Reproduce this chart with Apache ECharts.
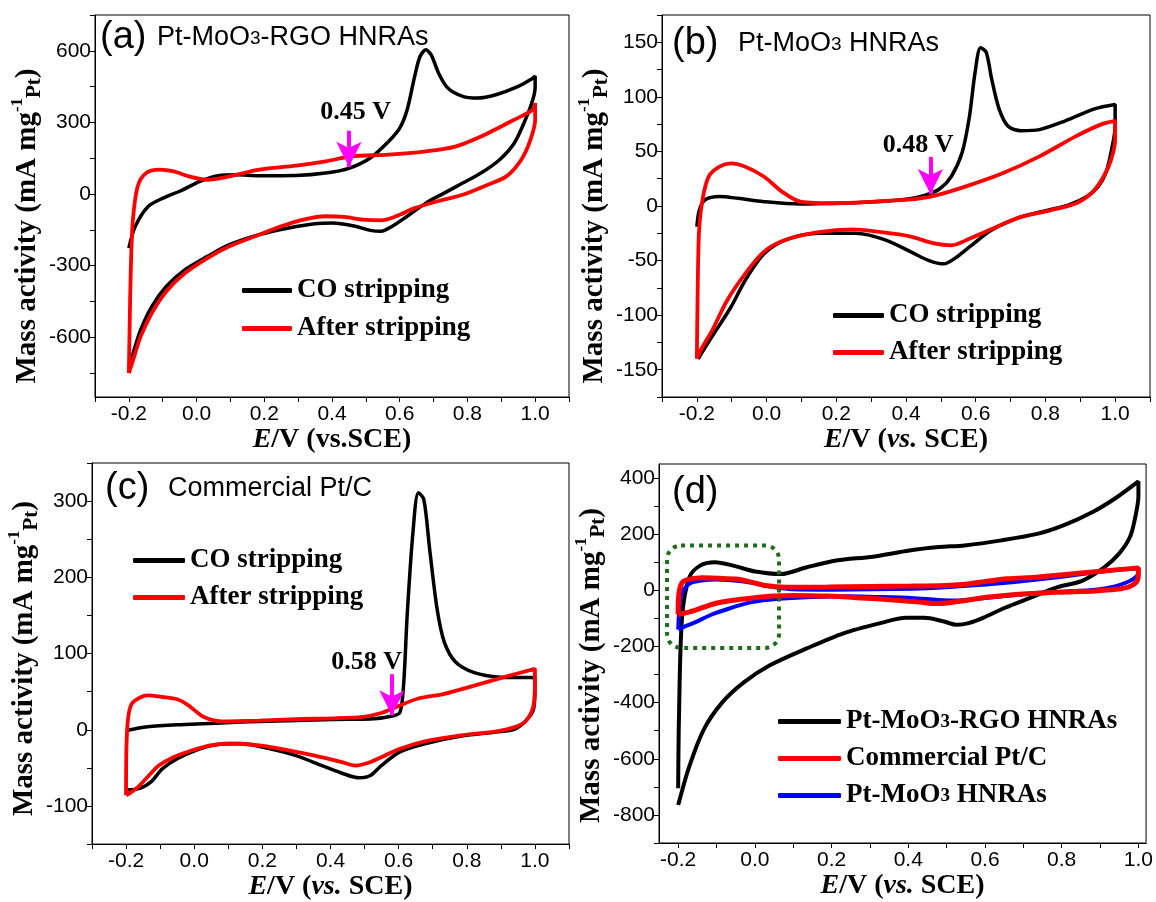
<!DOCTYPE html>
<html>
<head>
<meta charset="utf-8">
<script src="https://cdn.jsdelivr.net/npm/echarts@6/dist/echarts.min.js"></script>
<style>
  html, body { margin: 0; padding: 0; background: #fff; }
  #main { width: 1156px; height: 902px; }
</style>
</head>
<body>
<div id="main"></div>
<script>
// ---- data: [E (V vs SCE), mass activity (mA mg-1 Pt)] ----
var aCO = [[-0.2,-226],[-0.181,-135],[-0.143,-52],[-0.099,-17],[-0.045,15],[0.010,53],[0.064,77],[0.119,81],[0.185,77],[0.294,78],[0.381,88],[0.452,109],[0.513,151],[0.567,220],[0.6,276],[0.622,353],[0.644,492],[0.660,576],[0.677,604],[0.693,583],[0.715,506],[0.742,444],[0.786,409],[0.829,402],[0.884,416],[0.950,451],[0.993,485],[1.0,495],[1.0,450],[0.993,395],[0.971,311],[0.938,213],[0.895,144],[0.840,88],[0.786,46],[0.731,4],[0.677,-38],[0.622,-93],[0.578,-135],[0.545,-156],[0.513,-152],[0.469,-135],[0.403,-121],[0.349,-124],[0.272,-142],[0.185,-170],[0.097,-212],[0.032,-261],[-0.034,-317],[-0.089,-386],[-0.132,-470],[-0.165,-568],[-0.187,-665],[-0.2,-728]];
var aAfter = [[-0.2,-750],[-0.198,-582],[-0.194,-303],[-0.188,-107],[-0.174,32],[-0.149,88],[-0.110,102],[-0.067,95],[-0.023,74],[0.032,60],[0.097,74],[0.185,102],[0.294,119],[0.381,137],[0.458,158],[0.567,165],[0.677,179],[0.764,199],[0.840,241],[0.928,304],[0.993,353],[1.0,381],[1.0,311],[0.986,227],[0.959,144],[0.915,74],[0.860,39],[0.786,-3],[0.709,-31],[0.644,-59],[0.589,-93],[0.545,-110],[0.491,-107],[0.436,-96],[0.381,-93],[0.316,-107],[0.250,-135],[0.185,-170],[0.097,-219],[0.032,-268],[-0.034,-331],[-0.089,-407],[-0.132,-498],[-0.165,-596],[-0.187,-693],[-0.2,-750]];

var bCO = [[-0.2,-19],[-0.193,-4],[-0.177,5.5],[-0.135,8.6],[-0.082,7],[-0.008,4],[0.097,1.8],[0.203,2.5],[0.308,4],[0.393,6],[0.456,10],[0.498,16],[0.530,27],[0.561,49],[0.582,82],[0.598,122],[0.614,145],[0.630,141],[0.646,116],[0.667,89],[0.693,73],[0.730,69],[0.783,70],[0.857,78],[0.941,89],[1.0,93],[1.0,73],[0.988,49],[0.973,30],[0.952,18],[0.920,9],[0.867,1],[0.804,-4],[0.730,-10],[0.646,-22],[0.582,-37.5],[0.540,-48],[0.509,-53],[0.466,-50],[0.414,-42],[0.340,-31],[0.256,-25],[0.150,-25],[0.055,-31],[-0.008,-44],[-0.061,-68],[-0.103,-93],[-0.145,-114],[-0.177,-130],[-0.196,-140]];
var bAfter = [[-0.2,-140],[-0.198,-87],[-0.194,-25],[-0.184,5.5],[-0.166,27],[-0.135,36],[-0.103,39],[-0.061,36],[-0.008,27],[0.045,13],[0.097,4],[0.203,2.5],[0.308,4],[0.414,6],[0.477,9],[0.572,18],[0.677,30],[0.783,45.5],[0.888,64],[0.962,75],[1.0,78],[1.0,61],[0.988,42],[0.967,27],[0.936,13],[0.888,2.5],[0.814,-4],[0.730,-10],[0.646,-21],[0.582,-30],[0.530,-36],[0.477,-34],[0.414,-28],[0.329,-24],[0.245,-21.5],[0.150,-24],[0.055,-31],[-0.008,-42],[-0.061,-62],[-0.114,-87],[-0.156,-114],[-0.187,-131],[-0.2,-140]];

var cCO = [[-0.2,-1],[-0.137,4],[-0.028,7],[0.081,9],[0.190,11],[0.299,12],[0.408,13.5],[0.517,14],[0.582,18],[0.604,23],[0.615,62],[0.625,150],[0.642,259],[0.658,311],[0.674,302],[0.691,237],[0.713,158],[0.734,115],[0.767,89],[0.822,75],[0.898,69],[1.0,68],[1.0,54],[0.996,27],[0.974,12],[0.941,1],[0.887,-3],[0.789,-8],[0.680,-18],[0.604,-29],[0.549,-47],[0.517,-60],[0.484,-63],[0.440,-58],[0.375,-47],[0.299,-34],[0.223,-25],[0.135,-18],[0.059,-20],[0.005,-27],[-0.050,-38],[-0.093,-51],[-0.126,-68],[-0.159,-77],[-0.197,-79]];
var cAfter = [[-0.2,-86],[-0.199,-25],[-0.193,19],[-0.180,36],[-0.137,45],[-0.093,43],[-0.050,40],[-0.017,32],[0.027,17],[0.081,11],[0.190,12],[0.299,14],[0.408,15],[0.495,17],[0.549,22],[0.593,30],[0.658,41],[0.734,47],[0.822,58],[0.909,69],[1.0,80],[1.0,62],[0.996,32],[0.974,12],[0.941,3.5],[0.887,-2],[0.789,-7],[0.680,-15],[0.604,-25],[0.549,-36],[0.506,-44],[0.473,-47],[0.430,-42],[0.354,-34],[0.277,-27],[0.190,-20.5],[0.103,-18],[0.048,-20.5],[-0.006,-27],[-0.061,-36],[-0.104,-47],[-0.137,-62],[-0.170,-77],[-0.2,-86]];

// panel d: RGO sample; the other two are the "after stripping" curves of (c) and (b)
var dRGO = [[-0.2,-705],[-0.198,-459],[-0.190,-98],[-0.171,46],[-0.143,88],[-0.104,100],[-0.056,88],[0.001,67],[0.068,58],[0.135,82],[0.212,106],[0.308,120],[0.403,142],[0.480,154],[0.547,160],[0.643,178],[0.739,202],[0.806,232],[0.882,280],[0.940,328],[1.0,388],[1.0,334],[0.992,262],[0.978,190],[0.949,130],[0.911,82],[0.853,34],[0.786,10],[0.719,-26],[0.652,-62],[0.595,-98],[0.557,-117],[0.528,-123],[0.490,-110],[0.442,-98],[0.394,-98],[0.327,-117],[0.231,-153],[0.135,-207],[0.039,-267],[-0.028,-327],[-0.085,-399],[-0.133,-495],[-0.171,-627],[-0.2,-765]];
var dPtC = cAfter;
var dMoO3 = bAfter;

// ---- axes ----
var xRange = [[-0.3, 1.1], [-0.3, 1.1], [-0.3, 1.1], [-0.25, 1.02]];
var xTicksWide = [-0.3, -0.2, -0.1, 0, 0.1, 0.2, 0.3, 0.4, 0.5, 0.6, 0.7, 0.8, 0.9, 1.0, 1.1];
var xTicksD = [-0.2, -0.1, 0, 0.1, 0.2, 0.3, 0.4, 0.5, 0.6, 0.7, 0.8, 0.9, 1.0];
var xLabels = [-0.2, 0, 0.2, 0.4, 0.6, 0.8, 1.0];

var yRange = [[-850, 750], [-175, 175], [-150, 350], [-900, 450]];
var yTicks = [
  [-750, -600, -450, -300, -150, 0, 150, 300, 450, 600, 750],
  [-175, -150, -125, -100, -75, -50, -25, 0, 25, 50, 75, 100, 125, 150, 175],
  [-150, -100, -50, 0, 50, 100, 150, 200, 250, 300, 350],
  [-900, -800, -700, -600, -500, -400, -300, -200, -100, 0, 100, 200, 300, 400]
];
var yLabels = [
  [-600, -300, 0, 300, 600],
  [-150, -100, -50, 0, 50, 100, 150],
  [-100, 0, 100, 200, 300],
  [-800, -600, -400, -200, 0, 200, 400]
];

// ---- annotations ----
var arrowX = [0.45, 0.47, 0.58];
var arrowTop = [265, 45, 73];
var arrowTip = [114, 11, 19];
var arrowText = ['0.45 V', '0.48 V', '0.58 V'];
var arrowLabelPos = [[0.47, 344], [0.435, 56], [0.506, 88]];
var zoomBox = [[-0.229, 160], [0.063, -205]];

var SERIF = 'Liberation Serif, Times New Roman, serif';
var SANS = 'Liberation Sans, Arial, sans-serif';

var grids = [
  { left: 95, top: 15, width: 474, height: 382 },
  { left: 662, top: 15, width: 488, height: 382 },
  { left: 92, top: 463, width: 477, height: 384 },
  { left: 659, top: 464, width: 489, height: 379 }
];
grids.forEach(function (g) {
  g.show = true; g.borderColor = '#000'; g.borderWidth = 1; g.backgroundColor = 'transparent';
});

var xNames = ['{i|E}/V (vs.SCE)', '{i|E}/V ({i|vs.} SCE)', '{i|E}/V ({i|vs.} SCE)', '{i|E}/V ({i|vs.} SCE)'];
var yGaps = [46, 40, 46, 44];
// extra right padding slides the rotated title down along the axis
var yShift = [40, 40, 10, 24];

var xAxes = [], yAxes = [];
for (var i = 0; i < 4; i++) {
  xAxes.push({
    type: 'value', gridIndex: i, min: xRange[i][0], max: xRange[i][1],
    axisLine: { onZero: false, lineStyle: { color: '#000', width: 1 } },
    axisTick: { show: true, inside: false, length: 5, customValues: i === 3 ? xTicksD : xTicksWide, lineStyle: { color: '#000', width: 1 } },
    axisLabel: {
      customValues: xLabels, color: '#000', fontFamily: SANS, fontSize: 21, margin: 7,
      formatter: function (v) { return (Math.round(v * 10) / 10).toFixed(1); }
    },
    splitLine: { show: false },
    name: xNames[i], nameLocation: 'middle', nameGap: 24,
    nameTextStyle: {
      fontFamily: SERIF, fontWeight: 'bold', fontSize: 28, color: '#000',
      rich: { i: { fontFamily: SERIF, fontWeight: 'bold', fontStyle: 'italic', fontSize: 28, color: '#000' } }
    }
  });
  yAxes.push({
    type: 'value', gridIndex: i, min: yRange[i][0], max: yRange[i][1],
    axisLine: { onZero: false, lineStyle: { color: '#000', width: 1 } },
    axisTick: { show: true, inside: false, length: 5, customValues: yTicks[i], lineStyle: { color: '#000', width: 1 } },
    axisLabel: { customValues: yLabels[i], color: '#000', fontFamily: SANS, fontSize: 21, margin: 4 },
    splitLine: { show: false },
    name: 'Mass activity (mA mg{sup|-1}{sub|Pt})', nameLocation: 'middle', nameGap: yGaps[i], nameRotate: 90,
    nameTextStyle: {
      fontFamily: SERIF, fontWeight: 'bold', fontSize: 29, color: '#000', lineHeight: 36,
      padding: [0, yShift[i], 0, 0],
      rich: {
        sup: { fontFamily: SERIF, fontWeight: 'bold', fontSize: 17, color: '#000', verticalAlign: 'top', lineHeight: 36 },
        sub: { fontFamily: SERIF, fontWeight: 'bold', fontSize: 21, color: '#000', verticalAlign: 'bottom', lineHeight: 36 }
      }
    }
  });
}

function cv(name, data, color, width, idx) {
  return {
    type: 'line', name: name, data: data, xAxisIndex: idx, yAxisIndex: idx,
    symbol: 'none', smooth: 0.3, lineStyle: { color: color, width: width },
    itemStyle: { color: color }, emphasis: { disabled: true }
  };
}

function arrowSeries(k) {
  return {
    type: 'scatter', xAxisIndex: k, yAxisIndex: k, data: [arrowLabelPos[k]],
    symbolSize: 1, itemStyle: { color: 'rgba(0,0,0,0)', opacity: 1 }, silent: true,
    label: {
      show: true, position: 'inside', formatter: arrowText[k],
      fontFamily: SERIF, fontWeight: 'bold', fontSize: 26, color: '#000'
    },
    markLine: {
      silent: true, symbol: ['none', 'arrow'], symbolSize: [19, 25],
      lineStyle: { color: '#ff00ff', width: 4, type: 'solid', opacity: 1 },
      label: { show: false },
      data: [[{ coord: [arrowX[k], arrowTop[k]] }, { coord: [arrowX[k], arrowTip[k]] }]]
    }
  };
}

var legendText = {
  fontFamily: SERIF, fontWeight: 'bold', fontSize: 27, color: '#000', lineHeight: 27,
  rich: { s: { fontFamily: SERIF, fontWeight: 'bold', fontSize: 19, color: '#000', verticalAlign: 'bottom', lineHeight: 27, padding: [0, 0, 3, 0] } }
};
function legendFor(names, left, top, w, gap) {
  return {
    data: names, orient: 'vertical', left: left, top: top, padding: 0,
    icon: 'roundRect', itemWidth: w, itemHeight: 5, itemGap: gap, selectedMode: false,
    textStyle: legendText,
    formatter: function (n) { return n.replace('MoO3', 'MoO{s|3}'); }
  };
}

var option = {
  animation: false,
  backgroundColor: '#fff',
  grid: grids,
  xAxis: xAxes,
  yAxis: yAxes,
  legend: [
    legendFor(['CO stripping', 'After stripping'], 242, 277, 50, 11),
    legendFor(['CO stripping', 'After stripping'], 833, 302, 51, 10),
    legendFor(['CO stripping', 'After stripping'], 133, 547, 52, 10),
    legendFor(['Pt-MoO3-RGO HNRAs', 'Commercial Pt/C', 'Pt-MoO3 HNRAs'], 778, 708, 63, 10)
  ],
  series: [
    cv('CO stripping', aCO, '#000', 3.5, 0),
    cv('After stripping', aAfter, '#ff0000', 3.8, 0),
    cv('CO stripping', bCO, '#000', 3.5, 1),
    cv('After stripping', bAfter, '#ff0000', 3.8, 1),
    cv('CO stripping', cCO, '#000', 3.5, 2),
    cv('After stripping', cAfter, '#ff0000', 3.8, 2),
    cv('Pt-MoO3-RGO HNRAs', dRGO, '#000', 4, 3),
    cv('Pt-MoO3 HNRAs', dMoO3, '#0000ff', 4, 3),
    cv('Commercial Pt/C', dPtC, '#ff0000', 5, 3),
    arrowSeries(0), arrowSeries(1), arrowSeries(2)
  ]
};

var chart = echarts.init(document.getElementById('main'));
chart.setOption(option);

function panelLabel(tag, text, tagX, textX, cy) {
  return [
    { type: 'text', x: tagX, y: cy, style: { text: tag, fontFamily: SANS, fontSize: 38, fill: '#000', verticalAlign: 'middle' } },
    text ? {
      type: 'text', x: textX, y: cy, style: {
        text: text, fontFamily: SANS, fontSize: 27, fill: '#000', verticalAlign: 'middle', lineHeight: 27,
        rich: { s: { fontFamily: SANS, fontSize: 19, fill: '#000', verticalAlign: 'bottom', lineHeight: 27, padding: [0, 0, 3, 0] } }
      }
    } : null
  ].filter(Boolean);
}

var p0 = chart.convertToPixel({ gridIndex: 3 }, zoomBox[0]);
var p1 = chart.convertToPixel({ gridIndex: 3 }, zoomBox[1]);

chart.setOption({
  graphic: [].concat(
    panelLabel('(a)', 'Pt-MoO{s|3}-RGO HNRAs', 100, 157, 38),
    panelLabel('(b)', 'Pt-MoO{s|3} HNRAs', 672, 738, 44),
    panelLabel('(c)', 'Commercial Pt/C', 105, 168, 489),
    panelLabel('(d)', null, 672, 0, 493),
    [{
      type: 'rect', z: 100,
      shape: { x: p0[0], y: p0[1], width: p1[0] - p0[0], height: p1[1] - p0[1], r: 14 },
      style: { fill: 'none', stroke: '#1e6b1e', lineWidth: 4, lineDash: [4, 5] }
    }]
  )
});
</script>
</body>
</html>
